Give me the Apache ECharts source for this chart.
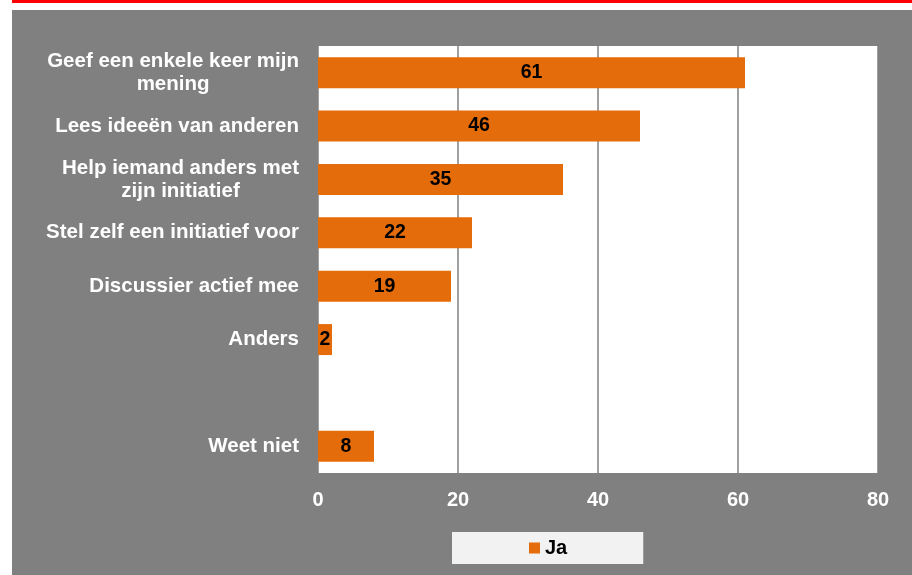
<!DOCTYPE html>
<html>
<head>
<meta charset="utf-8">
<script src="https://cdn.jsdelivr.net/npm/echarts@6/dist/echarts.min.js"></script>
<style>html,body{margin:0;padding:0;background:#fff}#c{width:912px;height:575px}</style>
</head>
<body>
<div id="c"></div>
<script>
const categories = [
  "Geef een enkele keer mijn\nmening",
  "Lees ideeën van anderen",
  "Help iemand anders met\nzijn initiatief",
  "Stel zelf een initiatief voor",
  "Discussier actief mee",
  "Anders",
  "",
  "Weet niet"
];
const jaValues = [61, 46, 35, 22, 19, 2, null, 8];
const xTicks = [0, 20, 40, 60, 80];
const seriesName = "Ja";

const chart = echarts.init(document.getElementById('c'), null, {renderer: 'canvas'});
const font = 'Arial, "Liberation Sans", sans-serif';
chart.setOption({
  backgroundColor: '#ffffff',
  animation: false,
  graphic: [
    {type: 'rect', shape: {x: 12, y: 0, width: 900, height: 3}, style: {fill: '#ff0000'}, z: -10, silent: true},
    {type: 'rect', shape: {x: 12, y: 10, width: 900, height: 565}, style: {fill: '#808080'}, z: -10, silent: true}
  ],
  grid: {left: 318, right: 34, top: 46, bottom: 102, show: true, backgroundColor: '#ffffff', borderWidth: 0},
  legend: {
    data: [seriesName],
    left: 452, top: 532,
    backgroundColor: '#F2F2F2',
    padding: [6, 76, 6, 77],
    itemWidth: 11, itemHeight: 11, itemGap: 5,
    icon: 'rect',
    textStyle: {color: '#000', fontWeight: 'bold', fontSize: 20, fontFamily: font}
  },
  xAxis: {
    type: 'value', min: xTicks[0], max: xTicks[xTicks.length - 1], interval: 20,
    axisLine: {show: false}, axisTick: {show: false},
    splitLine: {show: true, lineStyle: {color: '#808080', width: 1.5}},
    axisLabel: {color: '#ffffff', fontWeight: 'bold', fontSize: 20, fontFamily: font, margin: 17}
  },
  yAxis: {
    type: 'category', inverse: true, data: categories,
    axisLine: {show: false}, axisTick: {show: false},
    axisLabel: {
      margin: 19, align: 'right', lineHeight: 23,
      color: '#ffffff', fontWeight: 'bold', fontSize: 20.5, fontFamily: font,
      formatter: v => v.split('\n').map(l => '{c|' + l + '}').join('\n'),
      rich: {c: {align: 'center', color: '#ffffff', fontWeight: 'bold', fontSize: 20.5, fontFamily: font, lineHeight: 23}}
    }
  },
  series: [{
    name: seriesName, type: 'bar', data: jaValues,
    barCategoryGap: '42%',
    itemStyle: {color: '#E46C0A'},
    label: {show: true, position: 'inside', color: '#000', fontWeight: 'bold', fontSize: 19.5, fontFamily: font}
  }]
});
</script>
</body>
</html>
